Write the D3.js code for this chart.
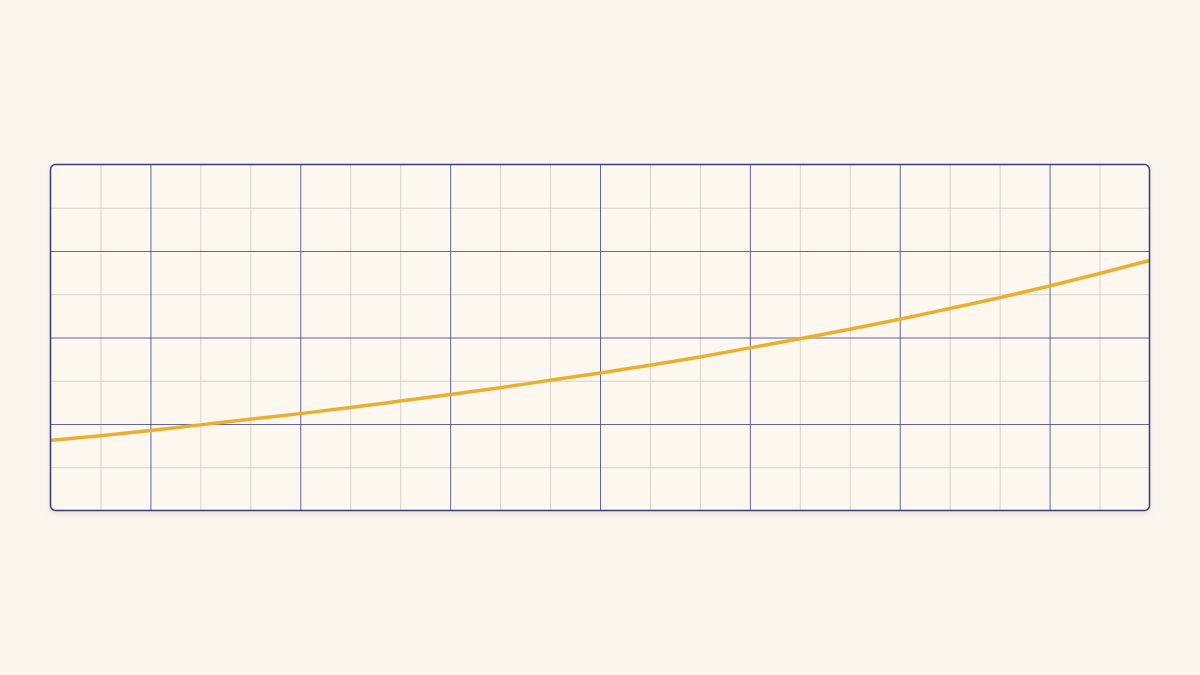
<!DOCTYPE html>
<html>
<head>
<meta charset="utf-8">
<script src="https://cdn.jsdelivr.net/npm/d3@7"></script>
<style>
  html, body { margin: 0; padding: 0; background: #fbf6ee; }
</style>
</head>
<body>
<div id="chart"></div>
<script>
// curve samples, one per minor grid column
var xValues = [0, 1, 2, 3, 4, 5, 6, 7, 8, 9, 10, 11, 12, 13, 14, 15, 16, 17, 18, 19, 20, 21, 22];
var yValues = [1.62, 1.73, 1.85, 1.98, 2.11, 2.24, 2.38, 2.53, 2.68, 2.84, 3.01, 3.18,
               3.36, 3.55, 3.76, 3.97, 4.19, 4.42, 4.67, 4.92, 5.19, 5.48, 5.78];

var minorX = [1, 3, 4, 6, 7, 9, 10, 12, 13, 15, 16, 18, 19, 21];
var majorX = [2, 5, 8, 11, 14, 17, 20];
var minorY = [1, 3, 5, 7];
var majorY = [2, 4, 6];

var margin = ({top: 164.5, right: 50.5, bottom: 164.5, left: 50.5});
var W = 1200, H = 675;
var width = W - margin.left - margin.right;
var height = H - margin.top - margin.bottom;

var x = d3.scaleLinear().domain([0, 22]).range([0, width]);
var y = d3.scaleLinear().domain([0, 8]).range([height, 0]);

var svg = d3.select("#chart")
    .append("svg")
    .attr("width", W)
    .attr("height", H);

svg.append("rect")
    .attr("width", W)
    .attr("height", H)
    .attr("fill", "#fbf6ee");

var defs = svg.append("defs");
var f = defs.append("filter").attr("id", "shadow")
    .attr("x", "-5%").attr("y", "-5%").attr("width", "110%").attr("height", "115%");
f.append("feDropShadow")
    .attr("dx", 0).attr("dy", 3).attr("stdDeviation", 3)
    .attr("flood-color", "#8a7a60").attr("flood-opacity", 0.18);
defs.append("clipPath").attr("id", "clip")
  .append("rect").attr("width", width).attr("height", height).attr("rx", 5);

var g = svg.append("g")
    .attr("transform", "translate(" + margin.left + "," + margin.top + ")");

g.append("rect")
    .attr("width", width)
    .attr("height", height)
    .attr("rx", 5)
    .attr("fill", "#fcf7ef")
    .attr("filter", "url(#shadow)");

var grid = g.append("g").attr("clip-path", "url(#clip)");

// minor grid
grid.append("g").call(d3.axisBottom(x).tickValues(minorX).tickSize(-height).tickFormat(""))
    .attr("transform", "translate(0," + height + ")")
    .call(s => s.select(".domain").remove())
    .selectAll("line").attr("stroke", "#d8d2cb").attr("stroke-width", 1);
grid.append("g").call(d3.axisLeft(y).tickValues(minorY).tickSize(-width).tickFormat(""))
    .call(s => s.select(".domain").remove())
    .selectAll("line").attr("stroke", "#d8d2cb").attr("stroke-width", 1);

// major grid
grid.append("g").call(d3.axisBottom(x).tickValues(majorX).tickSize(-height).tickFormat(""))
    .attr("transform", "translate(0," + height + ")")
    .call(s => s.select(".domain").remove())
    .selectAll("line").attr("stroke", "#4a4c88").attr("stroke-opacity", 0.85).attr("stroke-width", 1);
grid.append("g").call(d3.axisLeft(y).tickValues(majorY).tickSize(-width).tickFormat(""))
    .call(s => s.select(".domain").remove())
    .selectAll("line").attr("stroke", "#4a4c88").attr("stroke-opacity", 0.85).attr("stroke-width", 1);

var line = d3.line()
    .x((d, i) => x(xValues[i]))
    .y(d => y(d))
    .curve(d3.curveMonotoneX);

grid.append("path")
    .datum(yValues)
    .attr("fill", "none")
    .attr("stroke", "#e8b030")
    .attr("stroke-width", 3.5)
    .attr("stroke-linecap", "round")
    .attr("d", line);

g.append("rect")
    .attr("width", width)
    .attr("height", height)
    .attr("rx", 5)
    .attr("fill", "none")
    .attr("stroke", "#3b3d7a")
    .attr("stroke-width", 1.5);
</script>
</body>
</html>
